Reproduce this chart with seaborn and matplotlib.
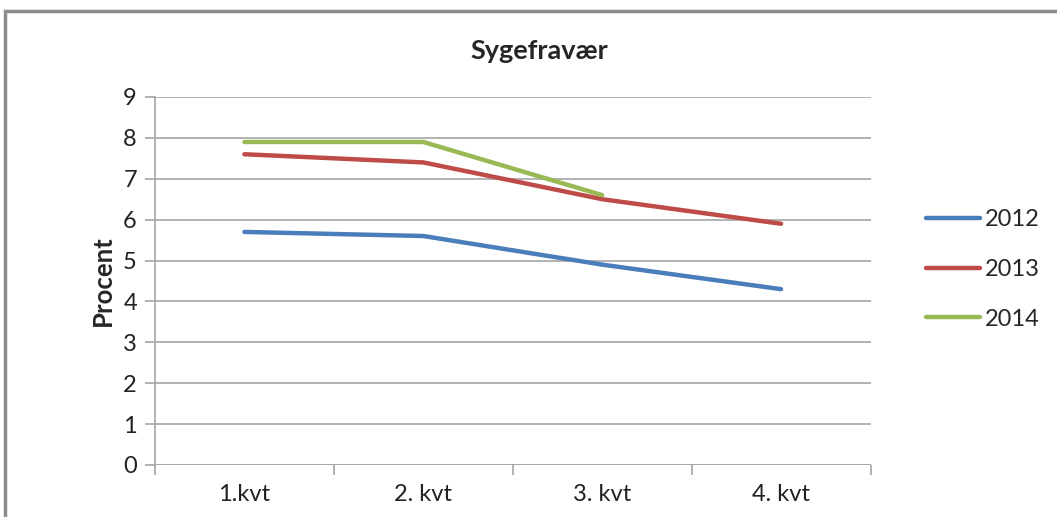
import pandas as pd
import seaborn as sns
import matplotlib.pyplot as plt
from matplotlib.patches import Rectangle
from matplotlib.ticker import FixedLocator

# data
quarters = ["1.kvt", "2. kvt", "3. kvt", "4. kvt"]
years = ["2012", "2013", "2014"]
values_2012 = [5.7, 5.6, 4.9, 4.3]
values_2013 = [7.6, 7.4, 6.5, 5.9]
values_2014 = [7.9, 7.9, 6.6]
colors = ["#4A7EBB", "#BE4B48", "#98B954"]

rows = []
for year, vals in zip(years, [values_2012, values_2013, values_2014]):
    for q, v in zip(quarters, vals):
        rows.append({"Kvartal": q, "Procent": v, "År": year})
df = pd.DataFrame(rows)

sns.set_style("white")
plt.rcParams["font.family"] = ["Lato", "DejaVu Sans"]

fig = plt.figure(figsize=(10.57, 5.17), dpi=100)
ax = fig.add_axes([0.1466, 0.1006, 0.677, 0.7118])

# outer chart frame (Excel style)
fig.patches.append(Rectangle((5 / 1057, -0.1), 1.2, 0.1 + (517 - 11) / 517,
                             transform=fig.transFigure, fill=False,
                             edgecolor="#8c8c8c", linewidth=2.5))

sns.lineplot(data=df, x="Kvartal", y="Procent", hue="År", palette=colors,
             sort=False, linewidth=3.2, ax=ax, legend=True,
             solid_capstyle="round")

ax.set_xlim(-0.5, 3.5)
ax.set_ylim(0, 9)
ax.set_yticks(range(0, 10))
ax.yaxis.grid(True, color="#a6a6a6", linewidth=1.2)
ax.xaxis.grid(False)
for side in ["top", "right", "bottom"]:
    ax.spines[side].set_visible(False)
ax.spines["left"].set_color("#a6a6a6")
ax.spines["left"].set_linewidth(1.2)
ax.axhline(0, color="#a6a6a6", linewidth=1.2)

ax.set_xticks(range(len(quarters)))
ax.set_xticklabels(quarters)
ax.xaxis.set_minor_locator(FixedLocator([-0.5, 0.5, 1.5, 2.5, 3.5]))
ax.tick_params(axis="x", which="major", length=0, pad=14, labelsize=17, colors="#222222")
ax.tick_params(axis="x", which="minor", bottom=True, length=7, width=1.2, color="#a6a6a6")
ax.tick_params(axis="y", left=True, length=7, width=1.2, color="#a6a6a6",
               labelsize=17, labelcolor="#222222", pad=6)

ax.set_xlabel("")
ax.set_ylabel("Procent", fontsize=18.5, fontweight="bold", labelpad=6)
ax.set_title("Sygefravær", fontsize=19.5, fontweight="bold", pad=27, x=0.537)

handles, labels = ax.get_legend_handles_labels()
ax.get_legend().remove()
for h in handles:
    h.set_solid_capstyle("round")
fig.legend(handles, labels, loc="center left", bbox_to_anchor=(0.876, 0.479),
           frameon=False, fontsize=17, handlelength=2.3, handletextpad=0.2,
           labelspacing=1.22, borderpad=0, borderaxespad=0)

fig.savefig("out.png", dpi=100)
